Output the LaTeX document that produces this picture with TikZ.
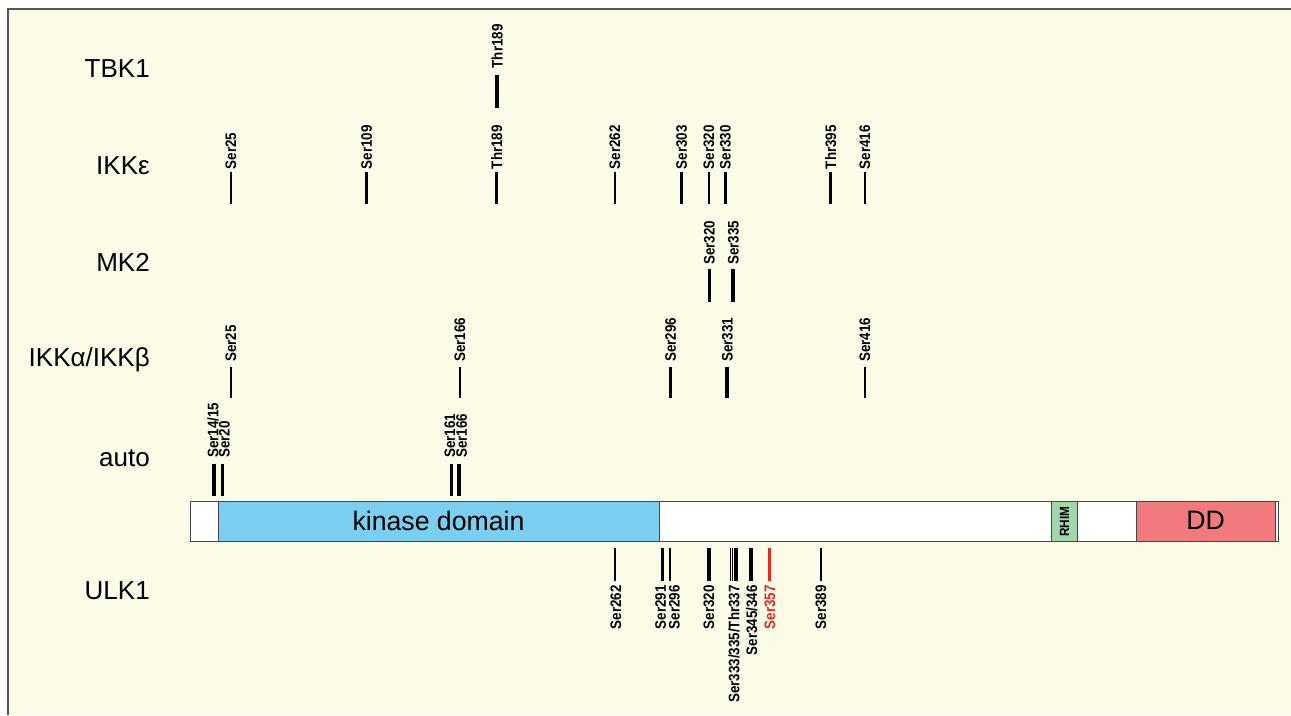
\documentclass[tikz,border=0pt]{standalone}
\usepackage{fontspec}
\setmainfont{Liberation Sans}
\newfontfamily\sitefont[FakeStretch=0.88]{Liberation Sans}
\definecolor{cream}{RGB}{252,251,232}
\definecolor{panelline}{RGB}{85,85,85}
\definecolor{barline}{RGB}{70,70,70}
\definecolor{kinblue}{RGB}{122,206,240}
\definecolor{ddpink}{RGB}{240,122,126}
\definecolor{rhimgreen}{RGB}{163,214,172}
\definecolor{sitered}{RGB}{232,40,30}
\begin{document}
\begin{tikzpicture}[x=0.75pt,y=-0.75pt,
  tick/.style={line width=1.9pt},
  thk/.style={line width=2.9pt},
  thin/.style={line width=1.2pt},
  site/.style={font=\sitefont\bfseries\fontsize{11.4}{11.4}\selectfont, rotate=90, inner sep=0pt},
  rowlab/.style={font=\fontsize{19.5}{20}\selectfont, anchor=base east, inner sep=0pt},
  seg/.style={draw=barline, line width=0.75pt}]
\useasboundingbox (0,0) rectangle (1291,715);
\fill[white] (0,0) rectangle (1291,715);
\fill[cream] (8,9) rectangle (1291,715);
\draw[panelline, line width=1.5pt] (8,715) -- (8,9) -- (1291,9);

% row labels
\node[rowlab] (tbk1) at (150,77.3) {TBK1};
\node[rowlab] (ikke) at (150,174.5) {IKKε};
\node[rowlab] (mk2) at (150,271.5) {MK2};
\node[rowlab] (ikkab) at (150,366.5) {IKKα/IKKβ};
\node[rowlab] (auto) at (150,466.5) {auto};
\node[rowlab] (ulk1) at (150,599.5) {ULK1};

% TBK1
\draw[thk] (497.3,107.7) -- (497.3,75);
\node[site,anchor=west] (t-thr189) at (497.3,68.5) {Thr189};

% IKK epsilon
\foreach \x/\t/\w [count=\i] in {231/Ser25/tick, 366.7/Ser109/tick, 496.7/Thr189/tick, 615/Ser262/tick, 681.7/Ser303/tick, 709/Ser320/tick, 725.5/Ser330/thk, 830.7/Thr395/tick, 865/Ser416/tick}{
  \draw[\w] (\x,204.3) -- (\x,171.7);
  \node[site,anchor=west] (e-\i) at (\x,169.3) {\t};
}

% MK2
\foreach \x/\t/\w [count=\i] in {709.3/Ser320/tick, 733.3/Ser335/thk}{
  \draw[\w] (\x,301.7) -- (\x,269);
  \node[site,anchor=west] (m-\i) at (\x,265) {\t};
}

% IKKalpha/beta
\foreach \x/\t/\w [count=\i] in {231/Ser25/tick, 460/Ser166/tick, 670.7/Ser296/tick, 727.3/Ser331/thk, 865/Ser416/tick}{
  \draw[\w] (\x,398) -- (\x,367);
  \node[site,anchor=west] (ab-\i) at (\x,362) {\t};
}

% auto
\foreach \x/\lx/\t/\w [count=\i] in {214/213/Ser14\slash 15/thk, 222.7/224.5/Ser20/tick, 451.7/450/Ser161/tick, 459.3/461.7/Ser166/thk}{
  \draw[\w] (\x,496) -- (\x,464);
  \node[site,anchor=west] (a-\i) at (\lx,458) {\t};
}

% protein bar
\draw[seg, fill=white] (190,501.7) rectangle (218,541.7);
\draw[seg, fill=kinblue] (218,501.7) rectangle (659,541.7);
\draw[seg, fill=white] (659,501.7) rectangle (1051.7,541.7);
\draw[seg, fill=rhimgreen] (1051.7,501.7) rectangle (1077.3,541.7);
\draw[seg, fill=white] (1077.3,501.7) rectangle (1136,541.7);
\draw[seg, fill=ddpink] (1136,501.7) rectangle (1275.7,541.7);
\draw[seg, fill=white] (1275.7,501.7) rectangle (1278.3,541.7);
\node[font=\fontsize{20}{20}\selectfont, anchor=base, inner sep=0pt] (kin) at (438.5,530) {kinase domain};
\node[font=\fontsize{20}{20}\selectfont, anchor=base, inner sep=0pt] (dd) at (1205.5,529.3) {DD};
\node[font=\sitefont\bfseries\fontsize{10}{10}\selectfont, rotate=90, inner sep=0pt] (rhim) at (1064.5,521.7) {RHIM};

% ULK1
\foreach \x/\lx/\t/\w [count=\i] in {615/616/Ser262/tick, 662.3/660.7/Ser291/tick, 670/674.3/Ser296/tick, 709.3/709/Ser320/thk, 751/751.7/Ser345\slash 346/thk, 821/821/Ser389/tick}{
  \draw[\w] (\x,548) -- (\x,580.7);
  \node[site,anchor=east] (u-\i) at (\lx,585) {\t};
}
\foreach \x in {730.5,732.6,734.7,736.8}{
  \draw[thin] (\x,548) -- (\x,580.7);
}
\node[site,anchor=east] (u-cl) at (734,585) {Ser333\slash 335\slash Thr337};
\draw[tick, sitered] (769.3,548) -- (769.3,580.7);
\node[site,anchor=east, text=sitered] (u-357) at (770,585) {Ser357};
\end{tikzpicture}
\end{document}
